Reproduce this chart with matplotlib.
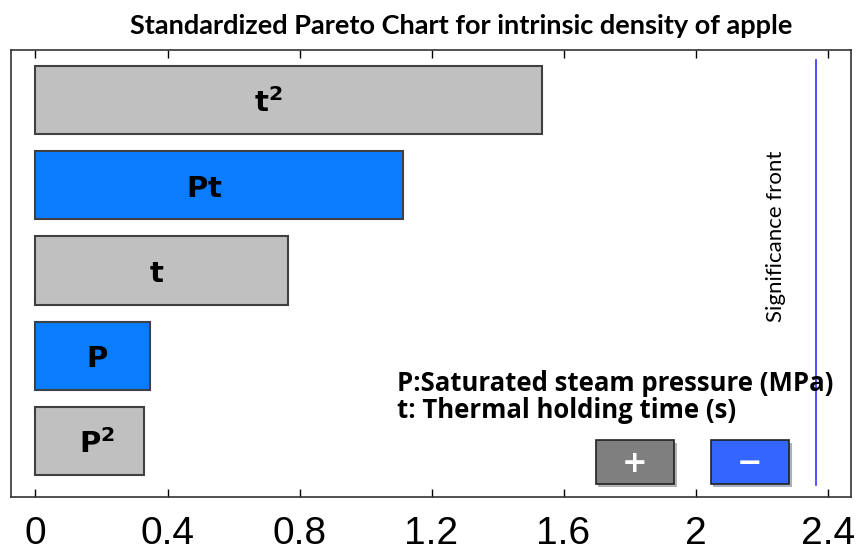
import matplotlib
matplotlib.use('Agg')
import matplotlib.pyplot as plt
from matplotlib.patches import Rectangle
from matplotlib import patheffects as pe

plt.rcParams['mathtext.fontset'] = 'dejavusans'

# Standardized effects, listed bottom to top
terms = [r'$\mathbf{P^2}$', r'$\mathbf{P}$', r'$\mathbf{t}$', r'$\mathbf{Pt}$', r'$\mathbf{t^2}$']
effects = [0.328, 0.347, 0.764, 1.114, 1.534]
signs = ['+', '-', '+', '-', '+']
significance = 2.364
xticks = [0, 0.4, 0.8, 1.2, 1.6, 2, 2.4]
xtick_labels = ['0', '0.4', '0.8', '1.2', '1.6', '2', '2.4']

# where the term name sits along each bar (fraction of its length)
label_frac = [0.57, 0.54, 0.48, 0.46, 0.46]

colors = {'+': '#c0c0c0', '-': '#0a7dff'}

fig = plt.figure(figsize=(8.6, 5.58), dpi=100)
ax = fig.add_axes([11 / 860, 61 / 558, 840 / 860, 447 / 558])

ypos = list(range(len(terms)))
ax.barh(ypos, effects, height=0.8, color=[colors[s] for s in signs],
        edgecolor='#404040', linewidth=1.5, zorder=2)

for y, v, name, f in zip(ypos, effects, terms, label_frac):
    ax.text(v * f, y - 0.04, name, ha='center', va='center', fontsize=21, zorder=3)

# significance front
ax.axvline(significance, ymin=0.027, ymax=0.978, color='#3333ff', lw=1.2, zorder=2)
ax.text(2.245, 2.4, 'Significance front', rotation=90, ha='center', va='center',
        fontsize=16, family='Lato', color='black')

# factor description
ax.text(0.4595, 0.253, 'P:Saturated steam pressure (MPa)', transform=ax.transAxes,
        ha='left', va='center', fontsize=18.5, fontweight='bold', family='Open Sans')
ax.text(0.4595, 0.193, 't: Thermal holding time (s)', transform=ax.transAxes,
        ha='left', va='center', fontsize=18.5, fontweight='bold', family='Open Sans')

# sign key
shadow = [pe.SimplePatchShadow(offset=(2, -2), alpha=0.35), pe.Normal()]
for x0, fc, sym in [(0.696, '#7f7f7f', '+'), (0.833, '#3366ff', '−')]:
    box = Rectangle((x0, 0.029), 0.093, 0.098, transform=ax.transAxes,
                    facecolor=fc, edgecolor='#222222', lw=1.2, zorder=3)
    box.set_path_effects(shadow)
    ax.add_patch(box)
    ax.text(x0 + 0.0465, 0.075, sym, transform=ax.transAxes, ha='center',
            va='center', color='white', fontsize=22, fontweight='bold',
            family='DejaVu Sans', zorder=4)

ax.set_xlim(-0.0742, 2.471)
ax.set_ylim(-0.657, 4.587)
ax.set_xticks(xticks)
ax.set_xticklabels(xtick_labels, family='Liberation Sans', fontsize=28)
ax.set_yticks([])
ax.tick_params(axis='x', direction='in', top=True, length=6, width=1, pad=14)
for sp in ax.spines.values():
    sp.set_color('#333333')
    sp.set_linewidth(1.2)

fig.suptitle('Standardized Pareto Chart for intrinsic density of apple',
             x=0.536, y=0.975, fontsize=19.5, fontweight='bold', family='Lato')

fig.savefig('out.png', dpi=100)
